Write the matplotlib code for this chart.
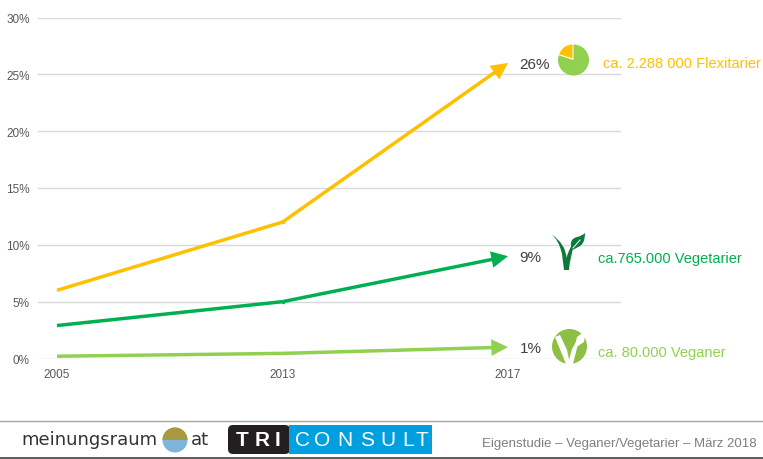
import matplotlib
matplotlib.use("Agg")
import matplotlib.pyplot as plt
from matplotlib.patches import Circle, Wedge, Polygon, Rectangle, FancyBboxPatch, PathPatch, FancyArrowPatch
from matplotlib.path import Path

plt.rcParams['font.family'] = ['Liberation Sans', 'DejaVu Sans']

years = ['2005', '2013', '2017']
flexitarier = [6, 12, 26]
vegetarier = [2.9, 5, 9]
veganer = [0.2, 0.45, 1]
y_ticks = [0, 5, 10, 15, 20, 25, 30]
end_labels = ['26%', '9%', '1%']
group_labels = ['ca. 2.288 000 Flexitarier', 'ca.765.000 Vegetarier', 'ca. 80.000 Veganer']

W, H = 763, 460
YEL, GRN, LGR = '#FFC000', '#00B050', '#92D050'
TXT = '#595959'

fig = plt.figure(figsize=(W/100, H/100), dpi=100, facecolor='white')
L, R, T, B = 38, 621, 18.5, 359.5
ax = fig.add_axes([L/W, 1-B/H, (R-L)/W, (B-T)/H])
ax.set_xlim((L-57)/225.5, (R-57)/225.5)
ax.set_ylim(0, 30)
for s in ax.spines.values():
    s.set_visible(False)
ax.set_yticks(y_ticks)
ax.set_yticklabels([f'{v}%' for v in y_ticks], fontsize=8.5, color=TXT)
ax.set_xticks(range(len(years)))
ax.set_xticklabels(years, fontsize=8.5, color=TXT)
ax.tick_params(axis='y', length=0, pad=6)
ax.tick_params(axis='x', length=0, pad=6.5)
ax.grid(axis='y', color='#D9D9D9', lw=1)
ax.grid(axis='x', visible=False)
ax.set_axisbelow(True)
ax.patch.set_alpha(0)

LW = 2.5
xs = list(range(len(years)))
for vals, c in ((flexitarier, YEL), (vegetarier, GRN), (veganer, LGR)):
    ax.plot(xs[:-1], vals[:-1], color=c, lw=LW, solid_capstyle='butt', clip_on=False)
    ax.plot(xs[1], vals[1], 'o', color=c, ms=LW, mew=0, clip_on=False)
    ax.add_patch(FancyArrowPatch((xs[-2], vals[-2]), (xs[-1], vals[-1]), arrowstyle='-', color=c, lw=LW,
                                 capstyle='butt', shrinkA=0, shrinkB=6, clip_on=False))
    ax.add_patch(FancyArrowPatch((xs[-2], vals[-2]), (xs[-1], vals[-1]),
                                 arrowstyle='simple,head_length=12,head_width=12,tail_width=0.5',
                                 mutation_scale=1, color=c, lw=0, shrinkA=0, shrinkB=0, clip_on=False))

# overlay in pixel coordinates for labels, icons and footer
ov = fig.add_axes([0, 0, 1, 1])
ov.set_xlim(0, W); ov.set_ylim(H, 0); ov.axis('off'); ov.patch.set_alpha(0)

for (x, y), t in zip(((519, 65), (519, 258), (520, 349)), end_labels):
    ov.text(x, y, t, fontsize=11, color='#404040', va='center', ha='left')
for (x, y), t, c in zip(((603, 64), (598, 259), (598, 353)), group_labels, (YEL, GRN, LGR)):
    ov.text(x, y, t, fontsize=10.5, color=c, va='center', ha='left')

# pie icon
ov.add_patch(Circle((573.5, 61), 15.5, color=LGR, lw=0, zorder=5))
ov.add_patch(Wedge((573.5, 61), 17, 198, 270, color='white', lw=0, zorder=6))
ov.add_patch(Wedge((572.5, 59.5), 14, 198, 270, color=YEL, lw=0, zorder=7))

# vegetarian V leaf
DG = '#0B7A3B'
M, Q, LN, C = Path.MOVETO, Path.CURVE3, Path.LINETO, Path.CLOSEPOLY
v = Path([(551, 235), (559, 241), (562, 255), (564, 271), (569, 271), (570, 258), (574, 247), (572, 246),
          (568, 252), (566.5, 259), (566, 245), (551, 235), (551, 235)],
         [M, Q, Q, LN, LN, Q, Q, LN, Q, Q, Q, Q, C])
ov.add_patch(PathPatch(v, fc=DG, ec='none', zorder=5))
leaf = Path([(572, 251), (568, 240), (577, 238), (582, 237), (585, 234), (585, 246), (578, 248), (575, 250), (572, 251), (572, 251)],
            [M, Q, Q, Q, Q, Q, Q, Q, Q, C])
ov.add_patch(PathPatch(leaf, fc=DG, ec='none', zorder=5))
ov.plot([573, 580], [249, 241], color='white', lw=0.7, zorder=6)

# vegan circle
VG = '#8DBF45'
ov.add_patch(Circle((569.5, 347.5), 17.5, color=VG, lw=0, zorder=5))
ov.add_patch(Polygon([(555, 338), (560, 336), (567, 351), (570, 365), (566, 365)], closed=True, fc='white', ec='none', zorder=6))
ov.add_patch(Polygon([(568, 365), (572, 350), (577, 341), (578, 345), (573, 365)], closed=True, fc='white', ec='none', zorder=6))
ov.add_patch(Polygon([(575, 347), (577, 338), (586, 331), (584, 343), (578, 347)], closed=True, fc='white', ec='none', zorder=6))

# footer
ov.plot([0, W], [421.7, 421.7], color='#A6A6A6', lw=1)
ov.plot([0, W], [459, 459], color='#404040', lw=1.2)
ov.text(21, 440, 'meinungsraum', fontsize=13, color='#333333', va='center', ha='left', family='DejaVu Sans')
ov.add_patch(Circle((175, 441), 12.5, color='#7FB5DC', lw=0))
ov.add_patch(Wedge((175, 441), 12.5, 180, 360, color='#A69A3C', lw=0))
ov.text(191, 440, 'at', fontsize=13, color='#333333', va='center', ha='left', family='DejaVu Sans')
ov.add_patch(FancyBboxPatch((228, 426), 62, 29, boxstyle='round,pad=0,rounding_size=5', fc='#231F20', ec='none'))
ov.add_patch(Rectangle((289, 426), 143, 29, fc='#009FDF', lw=0))
for x, ch in zip((242, 262, 278), 'TRI'):
    ov.text(x, 441, ch, fontsize=15, color='white', va='center', ha='center', fontweight='bold')
for x, ch in zip((302, 322, 345, 367, 388, 408, 422), 'CONSULT'):
    ov.text(x, 441, ch, fontsize=15, color='white', va='center', ha='center')
ov.text(757, 444, 'Eigenstudie – Veganer/Vegetarier – März 2018', fontsize=9.55, color='#7F7F7F', va='center', ha='right')

fig.savefig('out.png', dpi=100, facecolor='white')
